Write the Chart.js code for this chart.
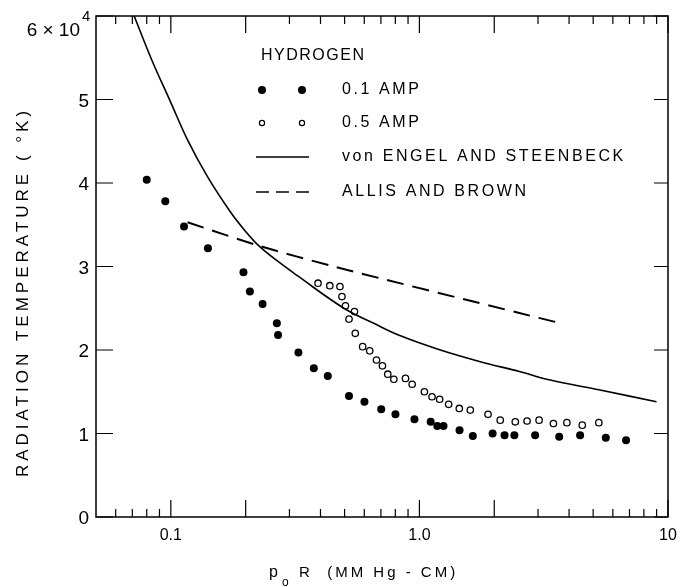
<!DOCTYPE html>
<html lang="en">
<head>
    <meta charset="UTF-8">
    <title>Radiation Temperature vs p0 R</title>
    <script src="https://cdn.jsdelivr.net/npm/chart.js"></script>
    <style>
        body { margin: 0; background: #fff; }
        #wrap { width: 680px; height: 587px; }
    </style>
</head>
<body>
    <div id="wrap"><canvas id="radChart" width="680" height="587"></canvas></div>

    <script>
        // values (temperature in units of 10^4 K)
        const amp01X = [0.080, 0.095, 0.113, 0.141, 0.196, 0.208, 0.234, 0.267, 0.270, 0.326, 0.376, 0.428, 0.521, 0.601, 0.702, 0.801, 0.955, 1.11, 1.18, 1.25, 1.45, 1.64, 1.97, 2.20, 2.41, 2.92, 3.65, 4.43, 5.62, 6.78];
        const amp01Y = [4.04, 3.78, 3.48, 3.22, 2.93, 2.70, 2.55, 2.32, 2.18, 1.97, 1.78, 1.69, 1.45, 1.38, 1.29, 1.23, 1.17, 1.14, 1.09, 1.09, 1.04, 0.97, 1.00, 0.98, 0.98, 0.98, 0.96, 0.98, 0.95, 0.92];

        const amp05X = [0.391, 0.436, 0.479, 0.488, 0.504, 0.548, 0.521, 0.552, 0.591, 0.631, 0.672, 0.710, 0.746, 0.789, 0.879, 0.935, 1.047, 1.124, 1.206, 1.311, 1.447, 1.602, 1.888, 2.114, 2.43, 2.71, 3.03, 3.46, 3.92, 4.52, 5.27];
        const amp05Y = [2.80, 2.77, 2.76, 2.64, 2.53, 2.46, 2.37, 2.20, 2.04, 1.99, 1.88, 1.81, 1.71, 1.65, 1.66, 1.59, 1.50, 1.44, 1.41, 1.35, 1.30, 1.28, 1.23, 1.16, 1.14, 1.15, 1.16, 1.12, 1.13, 1.10, 1.13];

        const engelX = [0.0712, 0.0839, 0.0991, 0.117, 0.1408, 0.174, 0.2, 0.2256, 0.27, 0.323, 0.497, 0.655, 0.839, 1.214, 1.758, 2.545, 3.36, 5.33, 8.99];
        const engelY = [6.0, 5.47, 4.99, 4.51, 4.07, 3.65, 3.42, 3.25, 3.06, 2.89, 2.50, 2.32, 2.17, 2.00, 1.86, 1.74, 1.64, 1.52, 1.38];

        const allisX = [0.1167, 0.2256, 0.453, 2.545, 3.59];
        const allisY = [3.53, 3.25, 3.00, 2.44, 2.33];

        const xTickVals = [0.1, 1, 10];
        const xTickText = ['0.1', '1.0', '10'];
        const xLongTicks = [0.1, 0.2, 1, 2, 10];
        const xMinorTicks = [0.06, 0.07, 0.08, 0.09, 0.3, 0.4, 0.5, 0.6, 0.7, 0.8, 0.9, 3, 4, 5, 6, 7, 8, 9];
        const yTickVals = [0, 1, 2, 3, 4, 5];

        const legendRows = ['0.1 AMP', '0.5 AMP', 'von ENGEL AND STEENBECK', 'ALLIS AND BROWN'];

        const pts = (xs, ys) => xs.map((x, i) => ({ x: x, y: ys[i] }));
        const FONT = '"Liberation Sans", Arial, sans-serif';

        // frame, inward ticks, labels, legend
        const paperPlugin = {
            id: 'paper',
            afterDraw(chart) {
                const ctx = chart.ctx;
                const a = chart.chartArea;
                const xs = chart.scales.x, ys = chart.scales.y;
                ctx.save();
                ctx.strokeStyle = '#000';
                ctx.fillStyle = '#000';
                ctx.lineWidth = 1.5;
                ctx.strokeRect(a.left, a.top, a.right - a.left, a.bottom - a.top);

                ctx.lineWidth = 1.2;
                ctx.beginPath();
                xLongTicks.forEach(v => {
                    const px = xs.getPixelForValue(v);
                    ctx.moveTo(px, a.bottom); ctx.lineTo(px, a.bottom - 17);
                    ctx.moveTo(px, a.top); ctx.lineTo(px, a.top + 17);
                });
                xMinorTicks.forEach(v => {
                    const px = xs.getPixelForValue(v);
                    ctx.moveTo(px, a.bottom); ctx.lineTo(px, a.bottom - 8);
                    ctx.moveTo(px, a.top); ctx.lineTo(px, a.top + 8);
                });
                yTickVals.concat([6]).forEach(v => {
                    const py = ys.getPixelForValue(v);
                    ctx.moveTo(a.left, py); ctx.lineTo(a.left + 17, py);
                    ctx.moveTo(a.right, py); ctx.lineTo(a.right - 14, py);
                });
                ctx.stroke();

                // x tick labels
                ctx.font = '16px ' + FONT;
                ctx.textAlign = 'center';
                ctx.textBaseline = 'alphabetic';
                xTickVals.forEach((v, i) => {
                    ctx.fillText(xTickText[i], xs.getPixelForValue(v), 540);
                });

                // y tick labels
                ctx.font = '19px ' + FONT;
                ctx.textAlign = 'right';
                ctx.textBaseline = 'middle';
                yTickVals.forEach(v => {
                    ctx.fillText(String(v), 89, ys.getPixelForValue(v) + 2);
                });
                ctx.textBaseline = 'alphabetic';
                ctx.fillText('6 \u00d7 10', 80, 36);
                ctx.font = '15px ' + FONT;
                ctx.textAlign = 'left';
                ctx.fillText('4', 82, 21);

                // y title
                ctx.save();
                ctx.translate(28, 292);
                ctx.rotate(-Math.PI / 2);
                ctx.font = '17px ' + FONT;
                ctx.letterSpacing = '4px';
                ctx.textAlign = 'center';
                ctx.fillText('RADIATION TEMPERATURE ( \u00b0K)', 0, 0);
                ctx.restore();

                // x title
                ctx.font = '16px ' + FONT;
                ctx.textAlign = 'left';
                ctx.fillText('p', 269, 577);
                ctx.font = '12px ' + FONT;
                ctx.fillText('o', 282, 586);
                ctx.font = '15px ' + FONT;
                ctx.letterSpacing = '3px';
                ctx.fillText('R  (MM Hg - CM)', 299, 577);
                ctx.letterSpacing = '0px';

                // legend
                ctx.font = '16px ' + FONT;
                ctx.letterSpacing = '1.5px';
                ctx.textBaseline = 'middle';
                ctx.fillText('HYDROGEN', 261, 56);
                ctx.letterSpacing = '2.6px';
                const rowY = [90, 123, 157, 192];
                legendRows.forEach((t, i) => ctx.fillText(t, 342, rowY[i]));
                ctx.letterSpacing = '0px';

                [262, 302].forEach(px => {
                    ctx.beginPath(); ctx.arc(px, rowY[0], 4, 0, Math.PI * 2); ctx.fill();
                    ctx.beginPath(); ctx.arc(px, rowY[1], 2.6, 0, Math.PI * 2);
                    ctx.lineWidth = 1.2; ctx.stroke();
                });
                ctx.lineWidth = 1.5;
                ctx.beginPath(); ctx.moveTo(256, rowY[2]); ctx.lineTo(309, rowY[2]); ctx.stroke();
                ctx.setLineDash([13, 7]);
                ctx.beginPath(); ctx.moveTo(256, rowY[3]); ctx.lineTo(309, rowY[3]); ctx.stroke();
                ctx.restore();
            }
        };

        const radChart = new Chart(document.getElementById('radChart'), {
            type: 'scatter',
            data: {
                datasets: [
                    {
                        label: '0.1 AMP',
                        data: pts(amp01X, amp01Y),
                        pointRadius: 4,
                        backgroundColor: '#000',
                        borderColor: '#000',
                        borderWidth: 0
                    },
                    {
                        label: '0.5 AMP',
                        data: pts(amp05X, amp05Y),
                        pointRadius: 3.2,
                        backgroundColor: 'rgba(0,0,0,0)',
                        borderColor: '#000',
                        borderWidth: 1.3
                    },
                    {
                        label: 'von ENGEL AND STEENBECK',
                        data: pts(engelX, engelY),
                        showLine: true,
                        pointRadius: 0,
                        borderColor: '#000',
                        borderWidth: 1.6,
                        tension: 0.4
                    },
                    {
                        label: 'ALLIS AND BROWN',
                        data: pts(allisX, allisY),
                        showLine: true,
                        pointRadius: 0,
                        borderColor: '#000',
                        borderWidth: 2,
                        borderDash: [17, 9],
                        tension: 0.3
                    }
                ]
            },
            options: {
                responsive: false,
                animation: false,
                layout: { padding: { left: 96, right: 12, top: 16, bottom: 70 } },
                scales: {
                    x: { type: 'logarithmic', min: 0.05, max: 10, display: false },
                    y: { type: 'linear', min: 0, max: 6, display: false }
                },
                plugins: {
                    legend: { display: false },
                    tooltip: { enabled: false }
                }
            },
            plugins: [paperPlugin]
        });
    </script>
</body>
</html>
